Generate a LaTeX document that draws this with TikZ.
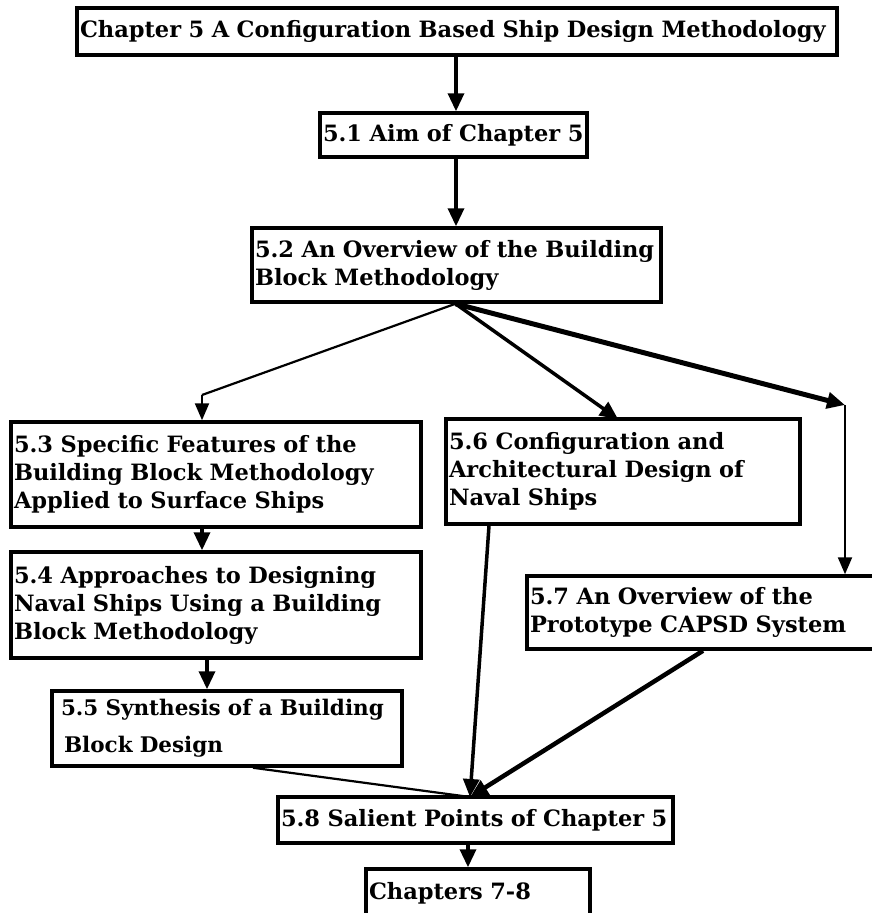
\documentclass[tikz,border=0pt]{standalone}
\usepackage{fontspec}
\setmainfont{DejaVu Serif}
\usetikzlibrary{arrows.meta,calc}

\tikzset{
  box/.style={draw, line width=3.5pt, fill=white, align=left, inner xsep=3pt, inner ysep=0pt,
    font=\bfseries\fontsize{22.5}{28}\selectfont},
  link/.style={line width=3.5pt, -{Triangle[length=18pt,width=16pt]}},
  thinlink/.style={line width=2.2pt, -{Triangle[length=17pt,width=14pt]}},
  thicklink/.style={line width=5pt, -{Triangle[length=18pt,width=16pt]}},
  heavylink/.style={line width=4.5pt, -{Triangle[length=18pt,width=16pt]}},
  plain/.style={line width=2.2pt},
}

\begin{document}
\begin{tikzpicture}[x=1pt,y=-1pt]
\useasboundingbox (0,0) rectangle (871,913);

% chapter title and the sections below it
\node[box, minimum width=760pt, minimum height=47pt, text width=754pt] (c5) at (457,31.5)
  {Chapter 5 A Configuration Based Ship Design Methodology};
\node[box, minimum width=267pt, minimum height=44pt, text width=261pt] (s51) at (453.5,135)
  {5.1 Aim of Chapter 5};
\node[box, minimum width=409pt, minimum height=74pt, text width=403pt] (s52) at (456.5,265)
  {5.2 An Overview of the Building\\Block Methodology};
\node[box, minimum width=410pt, minimum height=105pt, text width=404pt] (s53) at (216,474.5)
  {5.3 Specific Features of the\\Building Block Methodology\\Applied to Surface Ships};
\node[box, minimum width=410pt, minimum height=106pt, text width=404pt] (s54) at (216,605)
  {5.4 Approaches to Designing\\Naval Ships Using a Building\\Block Methodology};
\node[box, minimum width=350pt, minimum height=75pt, text width=344pt,
      font=\bfseries\fontsize{21.5}{37}\selectfont] (s55) at (227,728.5)
  {\hspace*{6pt}\mbox{5.5 Synthesis of a Building}\\\hspace*{9pt}\mbox{Block Design}};
\node[box, minimum width=354pt, minimum height=105pt, text width=348pt] (s56) at (623,471.5)
  {5.6 Configuration and\\Architectural Design of\\Naval Ships};
\node[box, minimum width=363pt, minimum height=73pt, text width=357pt] (s57) at (708.5,612.5)
  {5.7 An Overview of the\\Prototype CAPSD System};
\node[box, minimum width=395pt, minimum height=46pt, text width=389pt] (s58) at (475.5,820)
  {5.8 Salient Points of Chapter 5};
\node[box, minimum width=224pt, minimum height=48pt, text width=218pt] (ch78) at (478,893)
  {Chapters 7-8};

% branch points
\coordinate (split) at ($(s52.south)+(-1,0)$);
\coordinate (bendL) at (202,395);
\coordinate (bendR) at (845,405);
\coordinate (join) at (470,797);

% main spine
\draw[link] (c5.south -| 456,0) -- (s51.north -| 456,0);
\draw[link] (s51.south -| 456,0) -- (s52.north -| 456,0);

% three branches out of 5.2
\draw[plain] (split) -- (bendL);
\draw[thinlink] (bendL) -- (bendL |- s53.north);
\draw[link] (split) -- (618,419);
\draw[thicklink] (split) -- (bendR);
\draw[thinlink] (bendR) -- (bendR |- s57.north);

% left column
\draw[link] (s53.south -| 202,0) -- (s54.north -| 202,0);
\draw[link] (s54.south -| 207,0) -- (s55.north -| 207,0);

% everything converges on 5.8
\draw[plain] (s55.south -| 253,0) -- (join);
\draw[link] (s56.south -| 489,0) -- (join);
\draw[heavylink] (s57.south -| 703,0) -- (join);
\draw[link] (s58.south -| 468,0) -- (ch78.north -| 468,0);
\end{tikzpicture}
\end{document}
